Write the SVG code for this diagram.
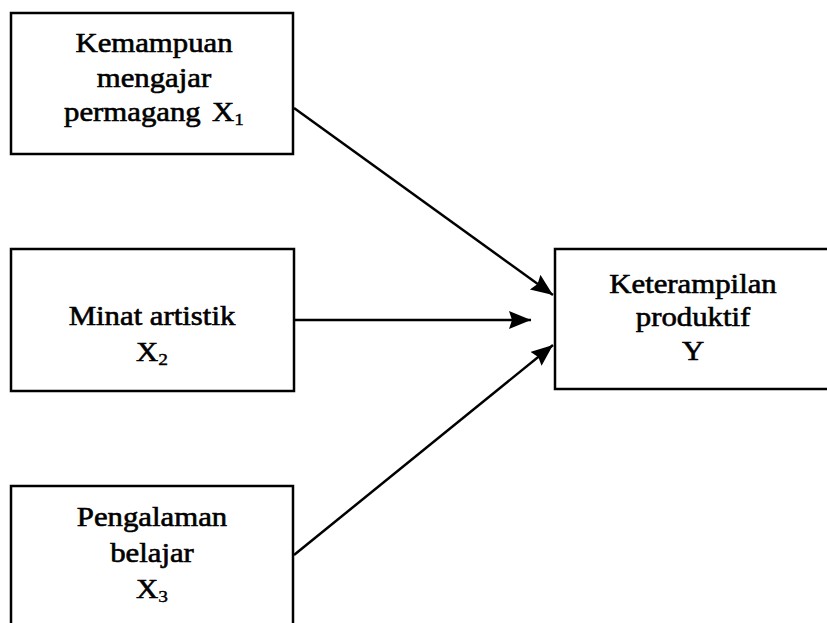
<svg xmlns="http://www.w3.org/2000/svg" width="827" height="623" viewBox="0 0 827 623">
  <style>
    .box { fill: #ffffff; stroke: #000000; stroke-width: 2.5; }
    .lbl { font-family: "Liberation Serif", "Times New Roman", serif; font-size: 27px; fill: #000000; stroke: #000000; stroke-width: 0.6; text-anchor: middle; }
    .sub { font-size: 17px; stroke-width: 0.4; }
    .conn { stroke: #000000; stroke-width: 2.5; fill: none; marker-end: url(#arrow); }
  </style>
  <defs>
    <marker id="arrow" markerUnits="userSpaceOnUse" markerWidth="24" markerHeight="20" refX="22" refY="9" orient="auto">
      <path d="M0,0 L22,9 L0,18 L3,9 Z" fill="#000000"/>
    </marker>
  </defs>
  <rect width="827" height="623" fill="#ffffff"/>
  <g id="node-x1">
    <rect class="box" x="11" y="13" width="282" height="141"/>
    <g transform="translate(154,0) scale(1.14,1)">
      <text class="lbl" x="0" y="52">Kemampuan</text>
      <text class="lbl" x="0" y="87">mengajar</text>
      <text class="lbl" x="0" y="121">permagang<tspan dx="10">X</tspan><tspan class="sub" dy="4">1</tspan></text>
    </g>
  </g>
  <g id="node-x2">
    <rect class="box" x="11" y="249" width="283" height="142"/>
    <g transform="translate(152,0) scale(1.14,1)">
      <text class="lbl" x="0" y="325">Minat artistik</text>
      <text class="lbl" x="0" y="361">X<tspan class="sub" dy="4">2</tspan></text>
    </g>
  </g>
  <g id="node-x3">
    <rect class="box" x="11" y="486" width="282" height="150"/>
    <g transform="translate(152,0) scale(1.14,1)">
      <text class="lbl" x="0" y="526">Pengalaman</text>
      <text class="lbl" x="0" y="562">belajar</text>
      <text class="lbl" x="0" y="598">X<tspan class="sub" dy="4">3</tspan></text>
    </g>
  </g>
  <g id="node-y">
    <rect class="box" x="555" y="249" width="280" height="140"/>
    <g transform="translate(693,0) scale(1.14,1)">
      <text class="lbl" x="0" y="293">Keterampilan</text>
      <text class="lbl" x="0" y="326">produktif</text>
      <text class="lbl" x="0" y="360">Y</text>
    </g>
  </g>
  <g id="connectors">
    <line class="conn" x1="294" y1="108" x2="553" y2="295"/>
    <line class="conn" x1="294" y1="320" x2="531" y2="320"/>
    <line class="conn" x1="294" y1="555" x2="553" y2="345"/>
  </g>
</svg>
